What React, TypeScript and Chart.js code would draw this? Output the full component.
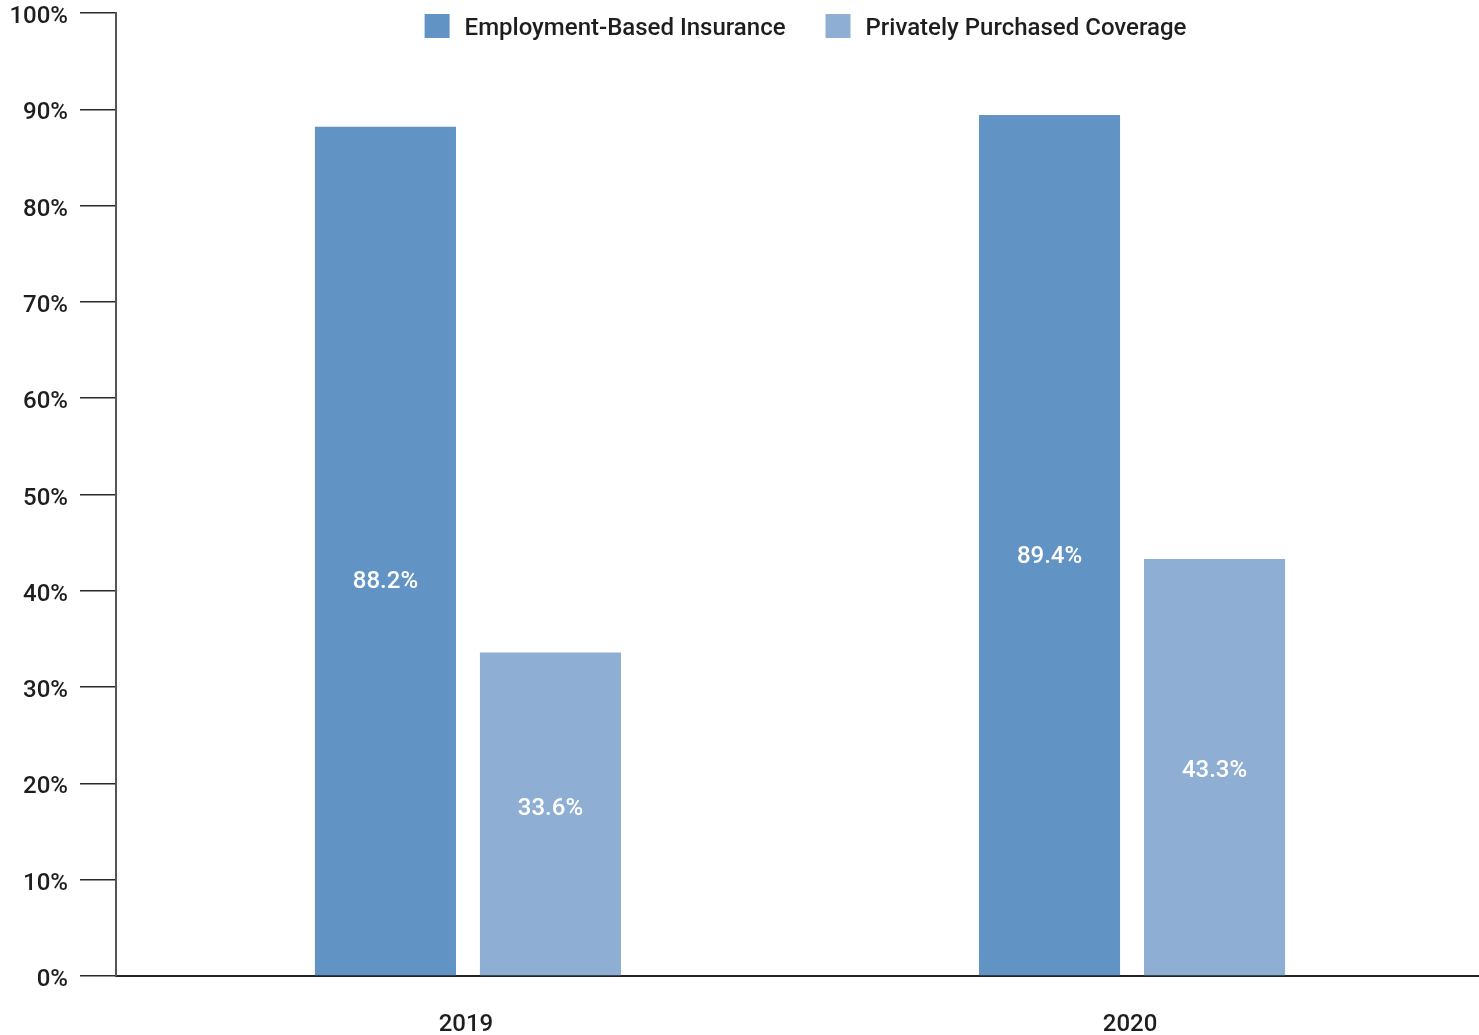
import React, { useEffect, useRef } from "react";
import { Chart, registerables } from "chart.js";

Chart.register(...registerables);

const years = ["2019", "2020"];
const seriesNames = ["Employment-Based Insurance", "Privately Purchased Coverage"];
const employmentBased = [88.2, 89.4];
const privatelyPurchased = [33.6, 43.3];
// vertical position (in % units) where each bar's value label sits
const employmentLabelAt = [41.1, 43.7];
const privateLabelAt = [17.5, 21.5];
const yTicks = [0, 10, 20, 30, 40, 50, 60, 70, 80, 90, 100];

const colors = ["#6193C5", "#8FAED4"];
const FONT = "Roboto, 'Noto Sans', sans-serif";
const WEIGHT = 500;
const TEXT = "#1e1e1e";

const valueLabels = {
  id: "valueLabels",
  afterDatasetsDraw(chart: any) {
    const ctx = chart.ctx;
    const yScale = chart.scales.y;
    const positions = [employmentLabelAt, privateLabelAt];
    ctx.save();
    ctx.fillStyle = "#ffffff";
    ctx.font = `${WEIGHT} 24px ${FONT}`;
    ctx.textAlign = "center";
    ctx.textBaseline = "middle";
    chart.data.datasets.forEach((ds: any, di: number) => {
      const meta = chart.getDatasetMeta(di);
      meta.data.forEach((bar: any, i: number) => {
        const v = ds.data[i].y;
        const y = yScale.getPixelForValue(positions[di][i]) + 2;
        ctx.fillText(`${v}%`, bar.x, y);
      });
    });
    ctx.restore();
  },
};

const topLegend = {
  id: "topLegend",
  afterDraw(chart: any) {
    const ctx = chart.ctx;
    const box = 25;
    const boxH = 24;
    const gapText = 15;
    const gapItem = 40;
    ctx.save();
    ctx.font = `${WEIGHT} 24px ${FONT}`;
    const widths = seriesNames.map((n) => ctx.measureText(n).width);
    const total =
      widths.reduce((a, w) => a + box + gapText + w, 0) + gapItem * (seriesNames.length - 1);
    const area = chart.chartArea;
    const center = (area.left + area.right) / 2 + 8;
    let x = center - total / 2;
    const top = 14;
    seriesNames.forEach((name, i) => {
      ctx.fillStyle = colors[i];
      ctx.fillRect(x, top, box, boxH);
      ctx.fillStyle = TEXT;
      ctx.textAlign = "left";
      ctx.textBaseline = "middle";
      ctx.fillText(name, x + box + gapText, top + boxH / 2 + 2.5);
      x += box + gapText + widths[i] + gapItem;
    });
    ctx.restore();
  },
};

export default function App() {
  const ref = useRef<HTMLCanvasElement | null>(null);
  useEffect(() => {
    document.body.style.margin = "0";
    if (!ref.current) return;
    const chart = new Chart(ref.current, {
      type: "bar",
      data: {
        datasets: [
          {
            label: seriesNames[0],
            data: employmentBased.map((v, i) => ({ x: i, y: v })),
            backgroundColor: colors[0],
            categoryPercentage: 0.497,
            barPercentage: 0.855,
          },
          {
            label: seriesNames[1],
            data: privatelyPurchased.map((v, i) => ({ x: i, y: v })),
            backgroundColor: colors[1],
            categoryPercentage: 0.497,
            barPercentage: 0.855,
          },
        ],
      },
      options: {
        animation: false,
        responsive: true,
        maintainAspectRatio: false,
        layout: { padding: 0 },
        plugins: {
          tooltip: { enabled: false },
          legend: { display: false },
        },
        scales: {
          x: {
            type: "linear",
            offset: false,
            min: -0.53,
            max: 1.5225,
            afterBuildTicks: (scale: any) => {
              scale.ticks = years.map((_, i) => ({ value: i }));
            },
            afterFit: (scale: any) => {
              scale.height = 59;
            },
            grid: { display: false, drawTicks: false, offset: false },
            border: { display: true, color: "#222", width: 2 },
            ticks: {
              padding: 35,
              labelOffset: -2,
              color: TEXT,
              font: { family: FONT, size: 24, weight: WEIGHT },
              callback: (v: any) => years[v] ?? "",
            },
          },
          y: {
            min: 0,
            max: 100,
            afterBuildTicks: (scale: any) => {
              scale.ticks = yTicks.map((v) => ({ value: v }));
            },
            afterFit: (scale: any) => {
              scale.width = 116;
              scale.paddingTop = 13;
              scale.paddingBottom = 13;
            },
            grid: {
              drawOnChartArea: false,
              drawTicks: true,
              tickLength: 36,
              color: "#2a2a2a",
              lineWidth: 1.5,
            },
            border: { display: true, color: "#555", width: 2 },
            ticks: {
              padding: 12,
              labelOffset: 4,
              color: TEXT,
              font: { family: FONT, size: 24, weight: WEIGHT },
              callback: (v: any) => `${v}%`,
            },
          },
        },
      },
      plugins: [valueLabels, topLegend],
    } as any);
    return () => chart.destroy();
  }, []);
  return (
    <div style={{ width: "1479px", height: "1035px", position: "relative" }}>
      <canvas ref={ref} />
    </div>
  );
}
